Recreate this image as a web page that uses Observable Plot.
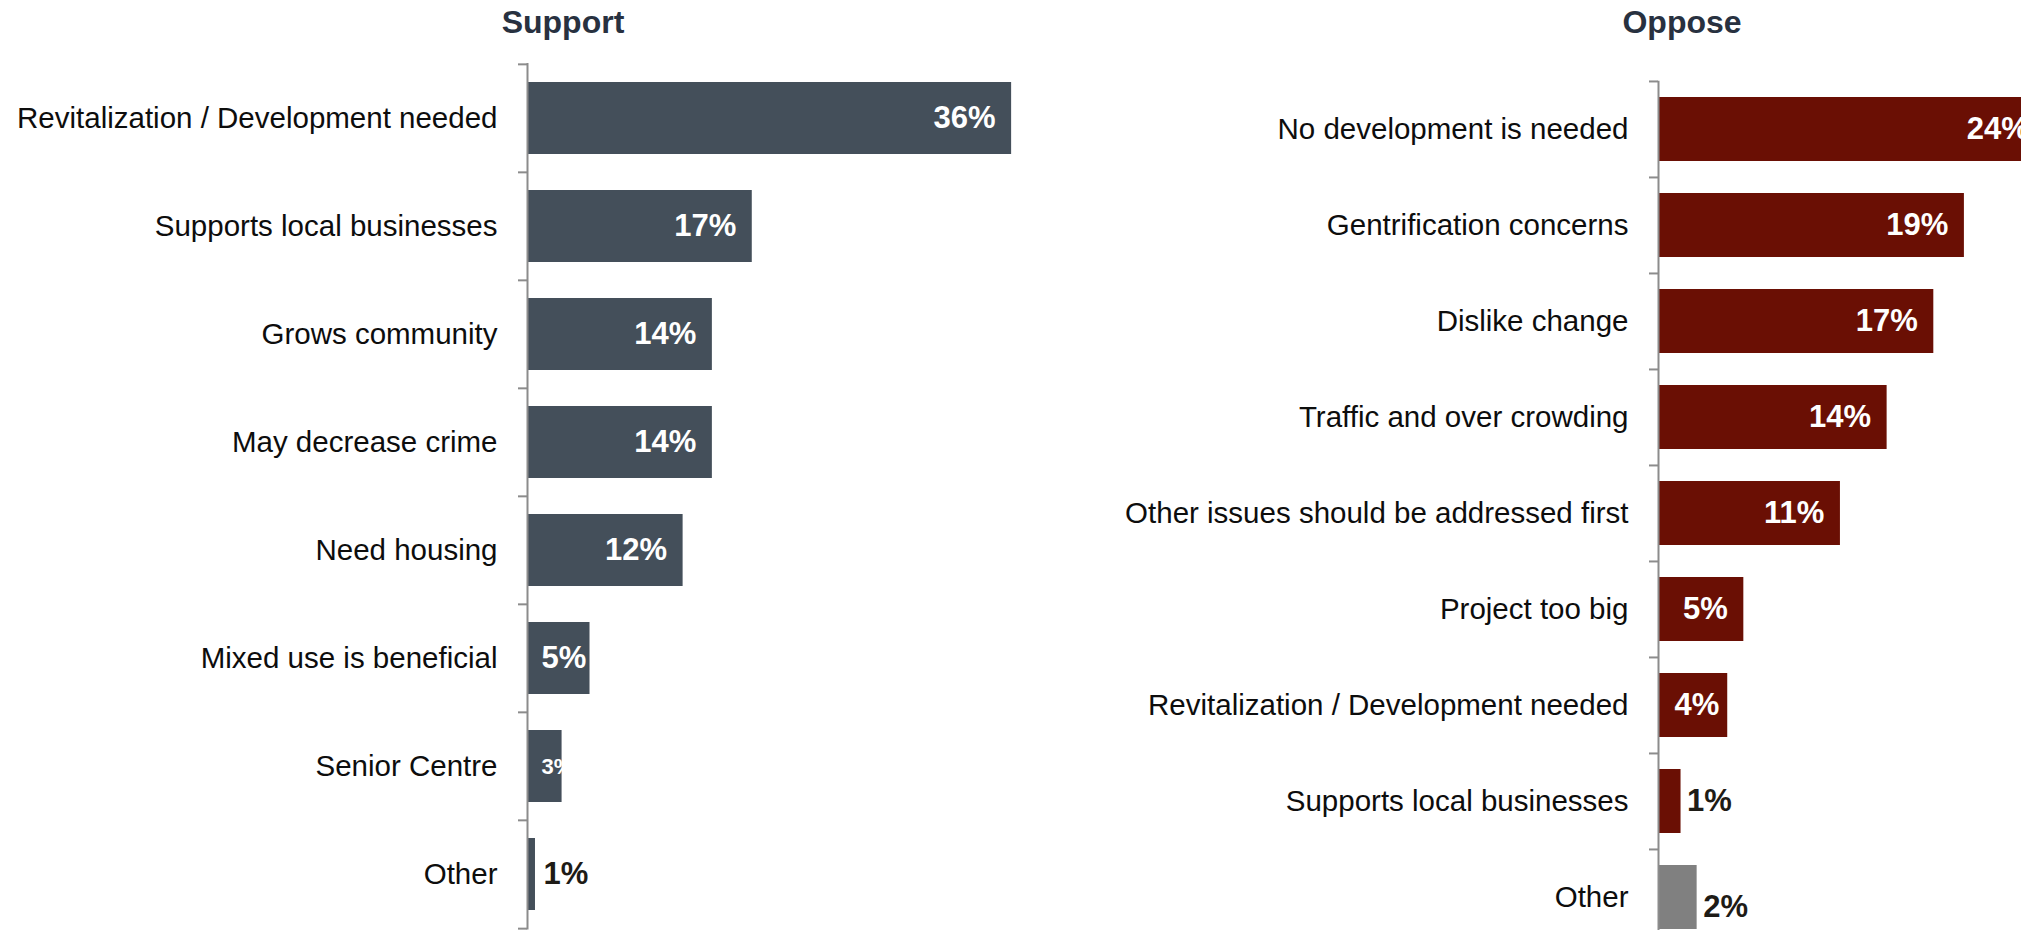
<!DOCTYPE html>
<html><head><meta charset="utf-8">
<script src="https://cdn.jsdelivr.net/npm/d3@7"></script>
<script src="https://cdn.jsdelivr.net/npm/@observablehq/plot@0.6"></script>
<style>
html,body{margin:0;padding:0;background:#fff;}
#stage{position:relative;width:2021px;height:930px;overflow:hidden;background:#fff;font-family:"Liberation Sans",Arial,sans-serif;}
.title{position:absolute;top:6px;font-size:32px;line-height:32px;font-weight:bold;color:#283140;transform:translateX(-50%);white-space:nowrap;}
.panel{position:absolute;top:0;width:1100px;}
.panel svg{max-width:none !important;overflow:visible;}
</style></head><body>
<div id="stage">
  <div class="panel" id="left" style="left:0"></div>
  <div class="panel" id="right" style="left:1050px"></div>
  <div class="title" style="left:563px">Support</div>
  <div class="title" style="left:1682px">Oppose</div>
</div>
<script>
// Values; labels show them rounded.
const supportCategories = ["Revitalization / Development needed","Supports local businesses","Grows community","May decrease crime","Need housing","Mixed use is beneficial","Senior Centre","Other"];
const supportValues = [36.4,16.9,13.9,13.9,11.7,4.7,2.6,0.6];
const opposeCategories = ["No development is needed","Gentrification concerns","Dislike change","Traffic and over crowding","Other issues should be addressed first","Project too big","Revitalization / Development needed","Supports local businesses","Other"];
const opposeValues = [24.0,19.0,17.1,14.2,11.3,5.3,4.3,1.4,2.4];

function makePanel(o) {
  const data = o.cats.map((c, i) => ({cat: c, v: o.vals[i]}));
  const n = data.length;
  const yTop = o.top, yBot = o.top + o.step * n;
  const height = Math.ceil(yBot) + 1;
  const x0 = o.axisX, x1 = x0 + o.pxPerPct * o.xMax;
  const tickLen = 9 / o.pxPerPct;
  const axisStroke = "#8c8c8c";
  const fmt = d => Math.round(d.v) + "%";
  const insideEnd = data.filter(d => d.v > 2.5 && d.v >= o.insideMin);
  const insideStart = data.filter(d => d.v > 2.5 && d.v < o.insideMin);
  const outside = data.filter(d => d.v <= 2.5 && d.cat !== "Other");
  const otherLbl = data.filter(d => d.v <= 2.5 && d.cat === "Other");
  return Plot.plot({
    width: o.width, height,
    marginLeft: x0, marginRight: o.width - x1, marginTop: yTop, marginBottom: height - yBot,
    x: {domain: [0, o.xMax], range: [x0, x1], axis: null},
    y: {domain: o.cats, range: [yTop, yBot], paddingInner: 0.33, paddingOuter: 0.165, tickSize: 0, tickPadding: 30, label: null},
    style: {fontSize: "29.5px", fontFamily: '"Liberation Sans", Arial, sans-serif', color: "#0d0d0d", background: "transparent", overflow: "visible", maxWidth: "none"},
    marks: [
      Plot.barX(data, {x: "v", y: "cat", fill: d => d.cat === "Other" ? o.otherColor : o.barColor}),
      Plot.ruleX([0], {stroke: axisStroke, strokeWidth: 2}),
      Plot.ruleY(o.cats, {y: d => d, x1: -tickLen, x2: 0, dy: -o.step / 2, stroke: axisStroke, strokeWidth: 2}),
      Plot.ruleY([o.cats[n - 1]], {y: d => d, x1: -tickLen, x2: 0, dy: o.step / 2, stroke: axisStroke, strokeWidth: 2}),
      Plot.text(insideEnd, {x: "v", y: "cat", text: fmt, textAnchor: "end", dx: -16, fill: "white", fontWeight: "bold", fontSize: 31}),
      Plot.text(insideStart, {x: () => 0, y: "cat", text: fmt, textAnchor: "start", dx: o.startDx, fill: "white", fontWeight: "bold", fontSize: d => d.v < 3.5 ? 22 : 31}),
      Plot.text(outside, {x: "v", y: "cat", text: fmt, textAnchor: "start", dx: o.outDx, fill: "#1e1b16", fontWeight: "bold", fontSize: 31}),
      Plot.text(otherLbl, {x: "v", y: "cat", text: fmt, textAnchor: "start", dx: o.outDx, dy: o.otherDy, fill: "#1e1b16", fontWeight: "bold", fontSize: 31})
    ]
  });
}

document.getElementById("left").append(makePanel({
  cats: supportCategories, vals: supportValues,
  axisX: 527, top: 63, step: 108.3, pxPerPct: 13.3, xMax: 40, width: 1100,
  barColor: "#444f5a", otherColor: "#444f5a", insideMin: 10, startDx: 14, outDx: 8, otherDy: 0
}));
document.getElementById("right").append(makePanel({
  cats: opposeCategories, vals: opposeValues,
  axisX: 608, top: 80.7, step: 96.1, pxPerPct: 16.1, xMax: 30, width: 1100,
  barColor: "#6a0f04", otherColor: "#808080", insideMin: 4.5, startDx: 16, outDx: 6, otherDy: 10
}));
</script>
</body></html>
